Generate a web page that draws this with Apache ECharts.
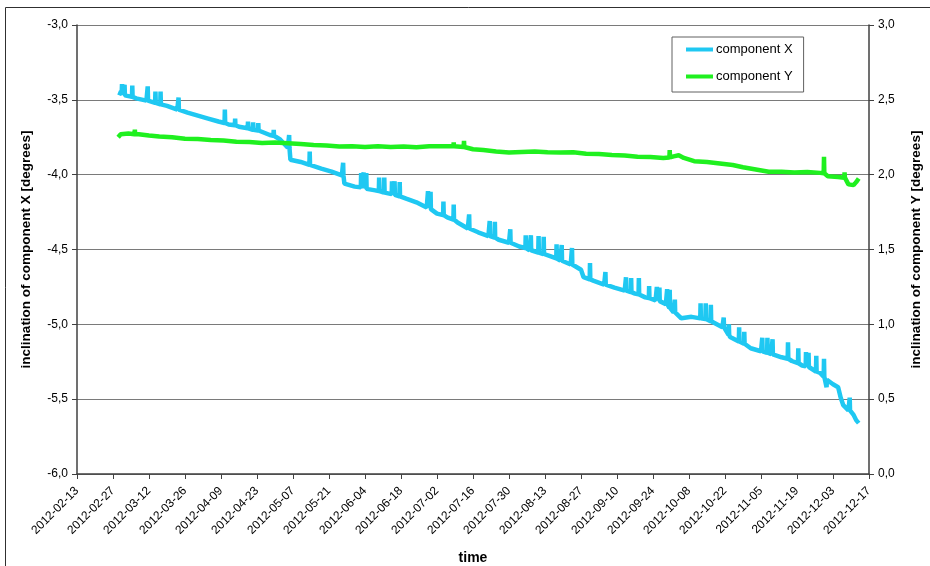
<!DOCTYPE html>
<html>
<head>
<meta charset="utf-8">
<script src="https://cdn.jsdelivr.net/npm/echarts@6/dist/echarts.min.js"></script>
<style>
html, body { margin: 0; padding: 0; background: #fff; }
#chart { width: 930px; height: 566px; }
</style>
</head>
<body>
<div id="chart"></div>
<script>
// Time span of the x axis and spacing of its date ticks (days)
const axisStart = '2012-02-13';
const axisEnd = '2012-12-17';
const tickStepDays = 14;

// Left axis (component X) and right axis (component Y) ranges
const leftAxisRange = [-6, -3];
const rightAxisRange = [0, 3];
const valueStep = 0.5;

// Component X: daily trend of the inclination [degrees]
const compXTrend = [
  ['2012-02-29', -3.45], ['2012-03-03', -3.475], ['2012-03-07', -3.49], ['2012-03-11', -3.505],
  ['2012-03-15', -3.525], ['2012-03-19', -3.54], ['2012-03-23', -3.565], ['2012-03-27', -3.585],
  ['2012-03-31', -3.605], ['2012-04-04', -3.625], ['2012-04-08', -3.645], ['2012-04-12', -3.665],
  ['2012-04-16', -3.68], ['2012-04-20', -3.69], ['2012-04-24', -3.71], ['2012-04-28', -3.735],
  ['2012-05-02', -3.765], ['2012-05-05', -3.82], ['2012-05-06', -3.90], ['2012-05-10', -3.915],
  ['2012-05-14', -3.94], ['2012-05-18', -3.96], ['2012-05-22', -3.98], ['2012-05-26', -4.005],
  ['2012-05-27', -4.06], ['2012-05-31', -4.08], ['2012-06-04', -4.095], ['2012-06-08', -4.105],
  ['2012-06-12', -4.125], ['2012-06-16', -4.14], ['2012-06-20', -4.16], ['2012-06-24', -4.185],
  ['2012-06-28', -4.22], ['2012-07-02', -4.26], ['2012-07-06', -4.285], ['2012-07-10', -4.32],
  ['2012-07-14', -4.36], ['2012-07-18', -4.385], ['2012-07-22', -4.41], ['2012-07-26', -4.435],
  ['2012-07-30', -4.455], ['2012-08-03', -4.48], ['2012-08-07', -4.505], ['2012-08-11', -4.525],
  ['2012-08-15', -4.545], ['2012-08-19', -4.575], ['2012-08-23', -4.60], ['2012-08-27', -4.635],
  ['2012-08-28', -4.685], ['2012-09-01', -4.71], ['2012-09-05', -4.735], ['2012-09-09', -4.755],
  ['2012-09-13', -4.775], ['2012-09-17', -4.795], ['2012-09-21', -4.82], ['2012-09-25', -4.84],
  ['2012-09-29', -4.865], ['2012-10-02', -4.92], ['2012-10-05', -4.96], ['2012-10-09', -4.95],
  ['2012-10-13', -4.965], ['2012-10-17', -4.985], ['2012-10-21', -5.02], ['2012-10-24', -5.085],
  ['2012-10-28', -5.125], ['2012-11-01', -5.16], ['2012-11-05', -5.18], ['2012-11-09', -5.20],
  ['2012-11-13', -5.22], ['2012-11-17', -5.245], ['2012-11-21', -5.275], ['2012-11-25', -5.30],
  ['2012-11-28', -5.325], ['2012-11-30', -5.38], ['2012-12-03', -5.40], ['2012-12-05', -5.42],
  ['2012-12-06', -5.49], ['2012-12-07', -5.54], ['2012-12-09', -5.575], ['2012-12-11', -5.605],
  ['2012-12-12', -5.64], ['2012-12-13', -5.66]
];

// Component X: short excursions [day, level before/after, peak]
const compXSpikes = [
  ['2012-03-01', -3.46, -3.395], ['2012-03-02', -3.47, -3.40], ['2012-03-05', -3.48, -3.405],
  ['2012-03-11', -3.505, -3.41], ['2012-03-14', -3.52, -3.445], ['2012-03-16', -3.53, -3.445],
  ['2012-03-23', -3.565, -3.485], ['2012-04-10', -3.655, -3.565], ['2012-04-14', -3.67, -3.625],
  ['2012-04-19', -3.69, -3.645], ['2012-04-21', -3.70, -3.65], ['2012-04-23', -3.705, -3.655],
  ['2012-04-29', -3.74, -3.70], ['2012-05-05', -3.82, -3.735], ['2012-05-13', -3.935, -3.845],
  ['2012-05-26', -4.005, -3.92], ['2012-06-02', -4.085, -3.99], ['2012-06-03', -4.09, -3.985],
  ['2012-06-04', -4.095, -3.99], ['2012-06-09', -4.11, -4.02], ['2012-06-11', -4.12, -4.02],
  ['2012-06-14', -4.13, -4.045], ['2012-06-15', -4.135, -4.045], ['2012-06-17', -4.145, -4.05],
  ['2012-06-28', -4.22, -4.11], ['2012-06-29', -4.23, -4.115], ['2012-07-04', -4.27, -4.18],
  ['2012-07-08', -4.30, -4.20], ['2012-07-14', -4.36, -4.265], ['2012-07-22', -4.41, -4.31],
  ['2012-07-24', -4.42, -4.315], ['2012-07-30', -4.455, -4.365], ['2012-08-05', -4.49, -4.405],
  ['2012-08-07', -4.505, -4.405], ['2012-08-10', -4.52, -4.41], ['2012-08-12', -4.53, -4.415],
  ['2012-08-17', -4.56, -4.465], ['2012-08-19', -4.575, -4.47], ['2012-08-23', -4.60, -4.49],
  ['2012-08-30', -4.70, -4.59], ['2012-09-05', -4.735, -4.65], ['2012-09-13', -4.775, -4.685],
  ['2012-09-15', -4.785, -4.69], ['2012-09-18', -4.80, -4.69], ['2012-09-22', -4.825, -4.745],
  ['2012-09-25', -4.84, -4.75], ['2012-09-26', -4.845, -4.755], ['2012-09-29', -4.865, -4.765],
  ['2012-09-30', -4.89, -4.77], ['2012-10-02', -4.92, -4.835], ['2012-10-12', -4.96, -4.86],
  ['2012-10-14', -4.965, -4.86], ['2012-10-16', -4.98, -4.87], ['2012-10-21', -5.02, -4.955],
  ['2012-10-23', -5.07, -5.00], ['2012-10-27', -5.115, -5.02], ['2012-10-29', -5.13, -5.05],
  ['2012-11-05', -5.18, -5.09], ['2012-11-07', -5.19, -5.09], ['2012-11-09', -5.20, -5.10],
  ['2012-11-15', -5.23, -5.12], ['2012-11-19', -5.26, -5.16], ['2012-11-22', -5.28, -5.185],
  ['2012-11-23', -5.285, -5.19], ['2012-11-26', -5.315, -5.21], ['2012-11-29', -5.35, -5.23],
  ['2012-11-30', -5.37, -5.42], ['2012-12-09', -5.575, -5.49]
];

// Component Y: daily trend of the inclination [degrees]
const compYTrend = [
  ['2012-02-29', 2.25], ['2012-03-01', 2.27], ['2012-03-04', 2.275], ['2012-03-08', 2.27],
  ['2012-03-12', 2.262], ['2012-03-16', 2.255], ['2012-03-21', 2.25], ['2012-03-26', 2.24],
  ['2012-03-31', 2.238], ['2012-04-05', 2.232], ['2012-04-10', 2.228], ['2012-04-15', 2.22],
  ['2012-04-20', 2.218], ['2012-04-25', 2.212], ['2012-04-30', 2.215], ['2012-05-05', 2.21],
  ['2012-05-10', 2.205], ['2012-05-15', 2.198], ['2012-05-20', 2.195], ['2012-05-25', 2.188],
  ['2012-05-30', 2.19], ['2012-06-04', 2.185], ['2012-06-09', 2.19], ['2012-06-14', 2.185],
  ['2012-06-19', 2.188], ['2012-06-24', 2.183], ['2012-06-29', 2.19], ['2012-07-04', 2.19],
  ['2012-07-09', 2.19], ['2012-07-13', 2.185], ['2012-07-16', 2.17], ['2012-07-20', 2.165],
  ['2012-07-25', 2.155], ['2012-07-30', 2.148], ['2012-08-04', 2.152], ['2012-08-09', 2.155],
  ['2012-08-14', 2.15], ['2012-08-19', 2.148], ['2012-08-24', 2.15], ['2012-08-29', 2.14],
  ['2012-09-03', 2.138], ['2012-09-08', 2.132], ['2012-09-13', 2.128], ['2012-09-18', 2.12],
  ['2012-09-23', 2.118], ['2012-09-28', 2.112], ['2012-10-02', 2.122], ['2012-10-04', 2.13],
  ['2012-10-06', 2.112], ['2012-10-10', 2.09], ['2012-10-15', 2.085], ['2012-10-20', 2.075],
  ['2012-10-25', 2.065], ['2012-10-29', 2.05], ['2012-11-03', 2.035], ['2012-11-08', 2.02],
  ['2012-11-13', 2.02], ['2012-11-18', 2.015], ['2012-11-23', 2.018], ['2012-11-28', 2.012],
  ['2012-12-01', 1.99], ['2012-12-05', 1.985], ['2012-12-08', 1.975], ['2012-12-09', 1.935],
  ['2012-12-11', 1.93], ['2012-12-12', 1.95], ['2012-12-13', 1.975]
];

// Component Y: short excursions [day, level before/after, peak]
const compYSpikes = [
  ['2012-03-06', 2.27, 2.30], ['2012-07-08', 2.19, 2.215], ['2012-07-12', 2.185, 2.225],
  ['2012-09-30', 2.115, 2.165], ['2012-11-29', 2.01, 2.12], ['2012-12-07', 1.98, 2.015]
];

const seriesNames = ['component X', 'component Y'];
const seriesColors = ['#1fc8f2', '#1ff01f'];

const DAY_MS = 864e5;
const originMs = parseDay(axisStart);

function parseDay(s) {
  const p = s.split('-');
  return Date.UTC(+p[0], +p[1] - 1, +p[2]);
}
function dayIndex(s) {
  return (parseDay(s) - originMs) / DAY_MS;
}
function dayLabel(d) {
  return new Date(originMs + Math.round(d) * DAY_MS).toISOString().slice(0, 10);
}
function decimalComma(v) {
  return v.toFixed(1).replace('.', ',');
}

// Merge the trend with its excursions into one time-ordered polyline
function buildLine(trend, spikes) {
  const pts = trend.map(([d, v]) => [dayIndex(d), v]);
  spikes.forEach(([d, level, peak]) => {
    const t = dayIndex(d);
    pts.push([t + 0.375, level], [t + 0.5, peak], [t + 0.625, level]);
  });
  pts.sort((a, b) => a[0] - b[0]);
  return pts;
}

const fontFamily = '"Liberation Sans", Arial, sans-serif';
const axisColor = '#404040';

const chart = echarts.init(document.getElementById('chart'), null, { renderer: 'canvas' });
chart.setOption({
  animation: false,
  backgroundColor: '#ffffff',
  textStyle: { fontFamily: fontFamily },
  graphic: [{
    type: 'rect',
    shape: { x: 5.5, y: 7.5, width: 1200, height: 1200 },
    style: { fill: 'none', stroke: '#303030', lineWidth: 1 },
    silent: true
  }],
  grid: { left: 77, right: 61, top: 25, bottom: 92, containLabel: false, outerBoundsMode: 'none' },
  legend: {
    orient: 'vertical',
    left: 672,
    top: 37,
    padding: [6, 11, 9, 14],
    itemGap: 14,
    itemWidth: 27,
    itemHeight: 4,
    icon: 'rect',
    borderColor: '#606060',
    borderWidth: 1,
    backgroundColor: '#ffffff',
    textStyle: { fontSize: 13, color: '#000', padding: [0, 0, 0, -2] },
    data: seriesNames
  },
  xAxis: {
    type: 'value',
    min: 0,
    max: dayIndex(axisEnd),
    interval: tickStepDays,
    name: 'time',
    nameLocation: 'middle',
    nameGap: 77,
    nameTextStyle: { fontSize: 14, fontWeight: 'bold', color: '#000' },
    axisLine: { show: true, onZero: false, lineStyle: { color: axisColor, width: 1.5 } },
    axisTick: { show: true, length: 5, lineStyle: { color: axisColor } },
    axisLabel: { rotate: 45, fontSize: 12, color: '#000', margin: 15, formatter: dayLabel },
    splitLine: { show: false }
  },
  yAxis: [{
    type: 'value',
    position: 'left',
    min: leftAxisRange[0],
    max: leftAxisRange[1],
    interval: valueStep,
    name: 'inclination of component X [degrees]',
    nameLocation: 'middle',
    nameRotate: 90,
    nameGap: 44,
    nameTextStyle: { fontSize: 13.5, fontWeight: 'bold', color: '#000' },
    axisLine: { show: true, onZero: false, lineStyle: { color: axisColor, width: 1.5 } },
    axisTick: { show: true, length: 5, lineStyle: { color: axisColor } },
    axisLabel: { fontSize: 12, color: '#000', margin: 9, formatter: decimalComma },
    splitLine: { show: true, lineStyle: { color: '#7a7a7a', width: 1 } }
  }, {
    type: 'value',
    position: 'right',
    min: rightAxisRange[0],
    max: rightAxisRange[1],
    interval: valueStep,
    name: 'inclination of component Y [degrees]',
    nameLocation: 'middle',
    nameRotate: 90,
    nameGap: 40,
    nameTextStyle: { fontSize: 13.5, fontWeight: 'bold', color: '#000' },
    axisLine: { show: true, onZero: false, lineStyle: { color: axisColor, width: 1.5 } },
    axisTick: { show: true, length: 5, lineStyle: { color: axisColor } },
    axisLabel: { fontSize: 12, color: '#000', margin: 9, formatter: decimalComma },
    splitLine: { show: false }
  }],
  series: [{
    name: seriesNames[0],
    type: 'line',
    yAxisIndex: 0,
    data: buildLine(compXTrend, compXSpikes),
    showSymbol: false,
    symbol: 'none',
    color: seriesColors[0],
    lineStyle: { color: seriesColors[0], width: 4.5 }
  }, {
    name: seriesNames[1],
    type: 'line',
    yAxisIndex: 1,
    data: buildLine(compYTrend, compYSpikes),
    showSymbol: false,
    symbol: 'none',
    color: seriesColors[1],
    lineStyle: { color: seriesColors[1], width: 4.5 }
  }]
});
</script>
</body>
</html>
